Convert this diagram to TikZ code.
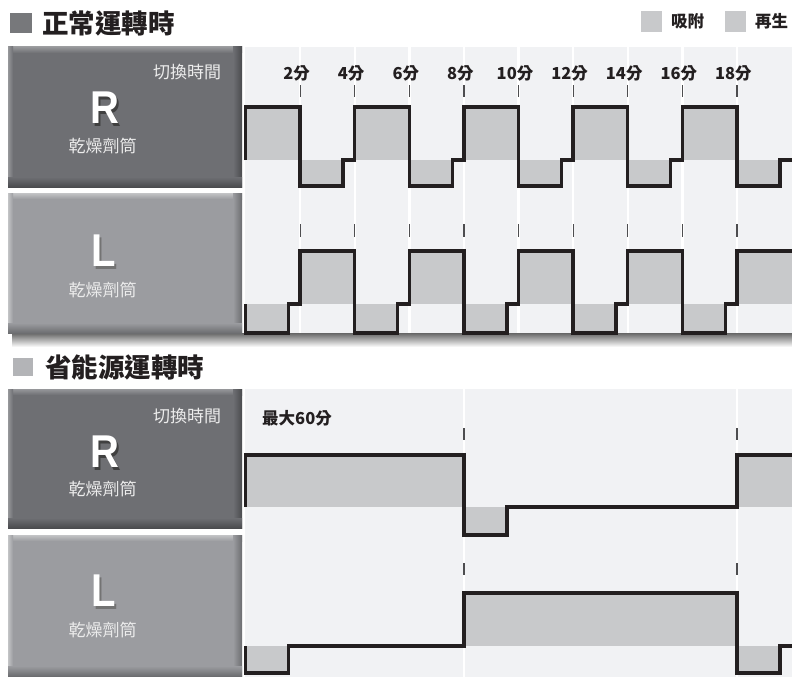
\documentclass[tikz,border=0pt]{standalone}
\usepackage{fontspec}
\setmainfont{Liberation Sans}
\newfontfamily\cjk{Noto Sans CJK TC}
\newfontfamily\latf{Liberation Sans}
\definecolor{chartbg}{HTML}{F1F2F4}
\definecolor{fillc}{HTML}{C8C9CB}
\definecolor{linec}{HTML}{231F20}
\definecolor{rbase}{HTML}{6E6F73}
\definecolor{rlight}{HTML}{96979A}
\definecolor{rdark}{HTML}{4A4B4E}
\definecolor{lbase}{HTML}{9B9CA0}
\definecolor{llight}{HTML}{C3C4C6}
\definecolor{ldark}{HTML}{6C6D70}
\definecolor{sqone}{HTML}{77787B}
\definecolor{sqtwo}{HTML}{B3B4B7}
\definecolor{tickc}{HTML}{4D4D4F}
\definecolor{boxtext}{HTML}{ECECEC}
\newcommand\bevbox[7]{%
  \fill[#5] (#1,#2) rectangle (#3,#4);
  \shade[top color=#6, bottom color=#5] (#1,#2) rectangle (#3,{#2+6});
  \shade[left color=#6, right color=#5] (#1,#2) rectangle ({#1+5},#4);
  \shade[left color=#5, right color=#7] ({#3-9},#2) rectangle (#3,#4);
  \shade[top color=#5, bottom color=#7] (#1,{#4-10}) rectangle (#3,#4);
}
\newcommand\shadowletter[2]{\makebox[0pt][l]{\hspace{3pt}\raisebox{-3pt}{\color{#1}#2}}#2}
\begin{document}
\begin{tikzpicture}[x=1pt,y=-1pt,
  wave/.style={line width=3.3pt, draw=linec, line join=miter},
  tickmark/.style={line width=1.2pt, draw=tickc},
  title/.style={anchor=west, inner sep=0pt, text=linec, font=\cjk\bfseries\fontsize{26.5}{26.5}\selectfont},
  lbl/.style={inner sep=0pt, text=linec, font=\cjk\bfseries\fontsize{16.5}{16.5}\selectfont},
  legtext/.style={anchor=west, inner sep=0pt, text=linec, font=\cjk\bfseries\fontsize{16.5}{16.5}\selectfont},
  boxlbl/.style={inner sep=0pt, text=boxtext, font=\cjk\fontsize{17}{17}\selectfont},
  bigl/.style={inner sep=0pt, text=white, font=\latf\bfseries\fontsize{46}{46}\selectfont, xscale=0.87}
]
\useasboundingbox (0,0) rectangle (792,677);
\fill[white] (0,0) rectangle (792,677);

% ---------- titles and legend
\fill[sqone] (10,13) rectangle (32,33);
\node[title] (title1) at (42,23) {正常運轉時};
\fill[fillc] (641,11) rectangle (662,32);
\node[legtext] (leg1) at (671,21.5) {吸附};
\fill[fillc] (725,11) rectangle (746,32);
\node[legtext] (leg2) at (755,21.5) {再生};

\fill[sqtwo] (13,358) rectangle (33,376);
\node[title] (title2) at (45,367) {省能源運轉時};

% ---------- shadow under panel 1
\shade[top color=black!60, bottom color=white] (12,333) rectangle (792,347);

% ---------- chart backgrounds
\fill[chartbg] (245,47) rectangle (792,333);
\foreach \i in {1,...,9}
  \fill[white] ({245.5+\i*54.6-1.2},47) rectangle ({245.5+\i*54.6+1.2},333);
\fill[chartbg] (245,389) rectangle (792,677);
\fill[white] (462.8,389) rectangle (465.2,677);
\fill[white] (735.8,389) rectangle (738.2,677);

% ---------- left boxes
\bevbox{8}{47}{242}{187}{rbase}{rlight}{rdark}
\bevbox{8}{193}{242}{333}{lbase}{llight}{ldark}
\bevbox{8}{389}{242}{528}{rbase}{rlight}{rdark}
\bevbox{8}{535}{242}{676}{lbase}{llight}{ldark}

\node[boxlbl] (sw1) at (187,72) {切換時間};
\node[bigl] (r1) at (104.5,109.5) {\shadowletter{black!75}{R}};
\node[boxlbl] (d1) at (102.5,146) {乾燥劑筒};
\node[bigl] (l1) at (103.5,252.5) {\shadowletter{black!55}{L}};
\node[boxlbl] (d2) at (102.5,290) {乾燥劑筒};

\node[boxlbl] (sw2) at (187,416) {切換時間};
\node[bigl] (r2) at (104.5,453.5) {\shadowletter{black!75}{R}};
\node[boxlbl] (d3) at (102.5,489) {乾燥劑筒};
\node[bigl] (l2) at (103.5,592.5) {\shadowletter{black!55}{L}};
\node[boxlbl] (d4) at (102.5,630) {乾燥劑筒};

% ---------- normal operation: fills
\foreach \k in {0,...,4} {
  \fill[fillc] ({245.5+2*\k*54.6},107) rectangle ({245.5+(2*\k+1)*54.6},160);
  \fill[fillc] ({245.5+(2*\k+1)*54.6},160) rectangle ({245.5+(2*\k+1)*54.6+43},186);
  \fill[fillc] ({245.5+2*\k*54.6},304) rectangle ({245.5+2*\k*54.6+43},333);
  \fill[fillc] ({245.5+(2*\k+1)*54.6},251) rectangle ({245.5+(2*\k+2)*54.6},304);
}
% ticks and labels
\foreach \i in {1,...,9} {
  \draw[tickmark] ({245.5+\i*54.6},85) -- ({245.5+\i*54.6},97);
  \draw[tickmark] ({245.5+\i*54.6},224) -- ({245.5+\i*54.6},237);
  \pgfmathtruncatemacro\mn{2*\i}
  \node[lbl] (t\i) at ({245.5+\i*54.6-3.5},73) {\mn 分};
}
% waves
\draw[wave] (245.5,160) \foreach \k in {0,...,4} {
  -- ({245.5+2*\k*54.6},107) -- ({245.5+(2*\k+1)*54.6},107)
  -- ({245.5+(2*\k+1)*54.6},186) -- ({245.5+(2*\k+1)*54.6+43},186)
  -- ({245.5+(2*\k+1)*54.6+43},160) -- ({245.5+(2*\k+2)*54.6},160) };
\draw[wave] (245.5,304) \foreach \k in {0,...,4} {
  -- ({245.5+2*\k*54.6},333) -- ({245.5+2*\k*54.6+43},333)
  -- ({245.5+2*\k*54.6+43},304) -- ({245.5+(2*\k+1)*54.6},304)
  -- ({245.5+(2*\k+1)*54.6},251) -- ({245.5+(2*\k+2)*54.6},251) };

% ---------- energy saving operation
\fill[fillc] (245.5,455) rectangle (464,507);
\fill[fillc] (464,507) rectangle (507,535);
\fill[fillc] (737,455) rectangle (792,507);
\fill[fillc] (245.5,646) rectangle (288.5,673);
\fill[fillc] (464,593) rectangle (737,646);
\fill[fillc] (737,646) rectangle (780,673);

\draw[tickmark] (464,428) -- (464,440);
\draw[tickmark] (737,428) -- (737,440);
\draw[tickmark] (464,563) -- (464,575);
\draw[tickmark] (737,563) -- (737,575);
\node[lbl, anchor=west] (max60) at (262,418) {最大60分};

\draw[wave] (245.5,507) -- (245.5,455) -- (464,455) -- (464,535) -- (507,535)
  -- (507,507) -- (737,507) -- (737,455) -- (792,455);
\draw[wave] (245.5,646) -- (245.5,673) -- (288.5,673) -- (288.5,646) -- (464,646)
  -- (464,593) -- (737,593) -- (737,673) -- (780,673) -- (780,646) -- (792,646);
\end{tikzpicture}
\end{document}
